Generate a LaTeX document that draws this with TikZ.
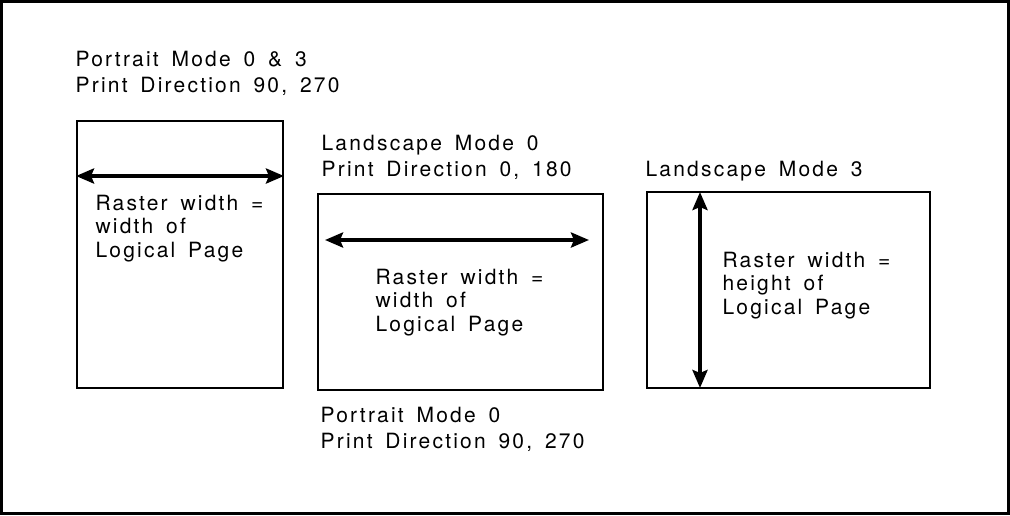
\documentclass[tikz,border=0pt]{standalone}
\usepackage{fontspec}
\newfontfamily\diagfont{TeX Gyre Heros}[LetterSpace=10.5, WordSpace=1.6]
\usetikzlibrary{arrows.meta}

\begin{document}
\begin{tikzpicture}[
    x=1pt, y=-1pt,
    pagebox/.style={rectangle, draw, line width=2pt, anchor=north west, inner sep=0pt},
    headtext/.style={anchor=north west, inner sep=0pt, align=left, font=\diagfont\fontsize{21}{26.5}\selectfont},
    rastertext/.style={headtext, font=\diagfont\fontsize{21}{23.5}\selectfont},
    widtharrow/.style={{Stealth[length=18pt,width=15pt,inset=3pt]}-{Stealth[length=18pt,width=15pt,inset=3pt]}, line width=4pt}
]

% frame
\useasboundingbox (0,0) rectangle (1010,515);
\draw[line width=3pt] (1.5,1.5) rectangle (1008.5,513.5);

% the three pages
\node[pagebox, minimum width=206pt, minimum height=267pt] (portrait) at (76,120) {};
\node[pagebox, minimum width=285pt, minimum height=196pt] (landzero) at (317,193) {};
\node[pagebox, minimum width=283pt, minimum height=196.5pt] (landthree) at (646,190.5) {};

% captions
\node[headtext] (portraithead) at (75.4,50.9) {Portrait Mode 0 \& 3\\Print Direction 90, 270};
\node[headtext] (landzerohead) at (321.4,134.9) {Landscape Mode 0\\Print Direction 0, 180};
\node[headtext] (landthreehead) at (645.4,160.9) {Landscape Mode 3};
\node[headtext] (landzerofoot) at (320.4,406.9) {Portrait Mode 0\\Print Direction 90, 270};

% raster notes
\node[rastertext] (portraitnote) at (95.4,194.9) {Raster width =\\width of\\Logical Page};
\node[rastertext] (landzeronote) at (375.4,268.9) {Raster width =\\width of\\Logical Page};
\node[rastertext] (landthreenote) at (722.4,251.9) {Raster width =\\height of\\Logical Page};

% arrow ends
\coordinate (pleft) at (portrait.west |- 0,176);
\coordinate (pright) at (portrait.east |- 0,176);
\coordinate (lzleft) at (325,240);
\coordinate (lzright) at (589,240);
\coordinate (ltop) at (700,192);
\coordinate (lbottom) at (700,388);

\draw[widtharrow] (pleft) -- (pright);
\draw[widtharrow] (lzleft) -- (lzright);
\draw[widtharrow] (ltop) -- (lbottom);

\end{tikzpicture}
\end{document}
